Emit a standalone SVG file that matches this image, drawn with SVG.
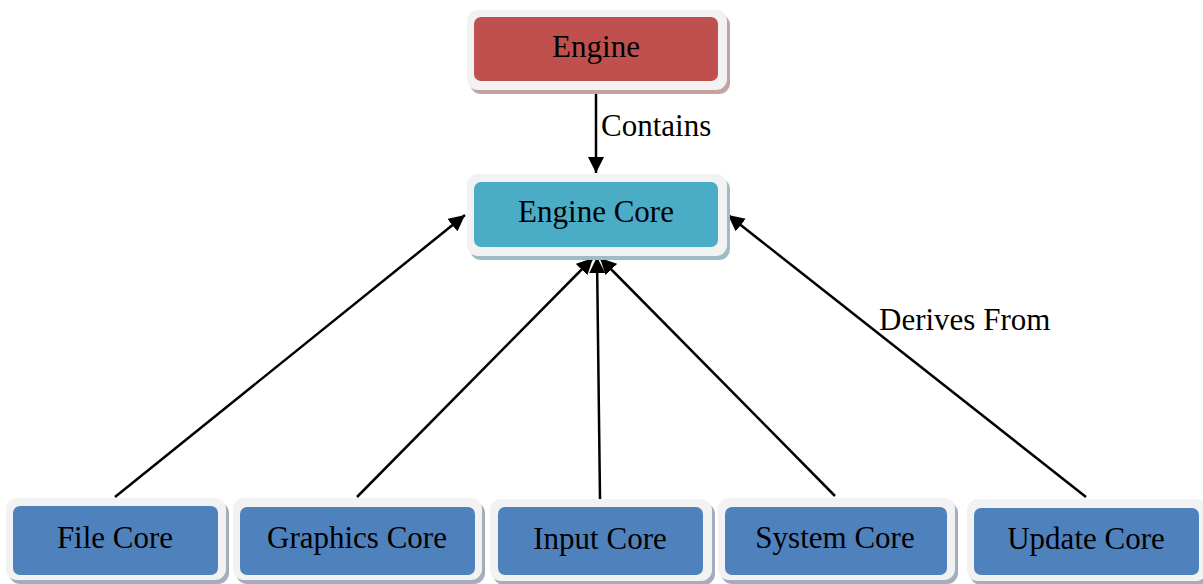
<svg xmlns="http://www.w3.org/2000/svg" width="1203" height="584" viewBox="0 0 1203 584">
<defs>
<style>
.frame{fill:#f2f2f2}
.t{font-family:"Liberation Serif","Times New Roman",serif;font-size:31px;fill:#000;text-anchor:middle}
.lbl{font-family:"Liberation Serif","Times New Roman",serif;font-size:31px;fill:#000}
.c{stroke:#000;stroke-width:2.5;fill:none;marker-end:url(#ah)}
.blue{fill:#4f81bd}
.bsh{fill:#a3adbd}
</style>
<marker id="ah" viewBox="0 0 10 10" refX="10" refY="5" markerWidth="6.5" markerHeight="6.5" orient="auto" markerUnits="strokeWidth">
<path d="M0,0 L10,5 L0,10 Z" fill="#000"/>
</marker>
</defs>
<rect width="1203" height="584" fill="#fff"/>
<g id="connectors">
<line class="c" x1="596" y1="88" x2="596" y2="173"/>
<line class="c" x1="115" y1="497" x2="465" y2="215"/>
<line class="c" x1="357" y1="497" x2="593" y2="258"/>
<line class="c" x1="600" y1="499" x2="597" y2="257"/>
<line class="c" x1="835" y1="496" x2="600" y2="258"/>
<line class="c" x1="1086" y1="497" x2="728" y2="215"/>
<text class="lbl" x="601" y="136">Contains</text>
<text class="lbl" x="879" y="330">Derives From</text>
</g>
<g id="engine">
<rect x="470" y="14" width="260" height="80" rx="11" fill="#c4a2a2"/>
<rect class="frame" x="467" y="10" width="260" height="80" rx="11"/>
<rect x="474" y="17" width="244" height="64" rx="7" fill="#c0504d"/>
<text class="t" x="596" y="57">Engine</text>
</g>
<g id="engine-core">
<rect x="470" y="178" width="260" height="82" rx="11" fill="#9dbcc4"/>
<rect class="frame" x="467" y="174" width="260" height="82" rx="11"/>
<rect x="474" y="182" width="244" height="65" rx="7" fill="#4bacc6"/>
<text class="t" x="596" y="222">Engine Core</text>
</g>
<g id="file-core">
<rect class="bsh" x="9" y="502" width="220" height="82" rx="11"/>
<rect class="frame" x="6" y="498" width="220" height="82" rx="11"/>
<rect class="blue" x="13" y="506" width="205" height="69" rx="7"/>
<text class="t" x="115" y="548">File Core</text>
</g>
<g id="graphics-core">
<rect class="bsh" x="236" y="502" width="249" height="82" rx="11"/>
<rect class="frame" x="233" y="498" width="249" height="82" rx="11"/>
<rect class="blue" x="240" y="507" width="235" height="68" rx="7"/>
<text class="t" x="357" y="548">Graphics Core</text>
</g>
<g id="input-core">
<rect class="bsh" x="493" y="503" width="222" height="82" rx="11"/>
<rect class="frame" x="490" y="499" width="222" height="82" rx="11"/>
<rect class="blue" x="498" y="507" width="205" height="68" rx="7"/>
<text class="t" x="600" y="549">Input Core</text>
</g>
<g id="system-core">
<rect class="bsh" x="721" y="502" width="237" height="82" rx="11"/>
<rect class="frame" x="718" y="498" width="237" height="82" rx="11"/>
<rect class="blue" x="725" y="507" width="222" height="68" rx="7"/>
<text class="t" x="835" y="548">System Core</text>
</g>
<g id="update-core">
<rect class="bsh" x="970" y="503" width="240" height="82" rx="11"/>
<rect class="frame" x="967" y="499" width="240" height="82" rx="11"/>
<rect class="blue" x="974" y="508" width="225" height="67" rx="7"/>
<text class="t" x="1086" y="549">Update Core</text>
</g>
</svg>
